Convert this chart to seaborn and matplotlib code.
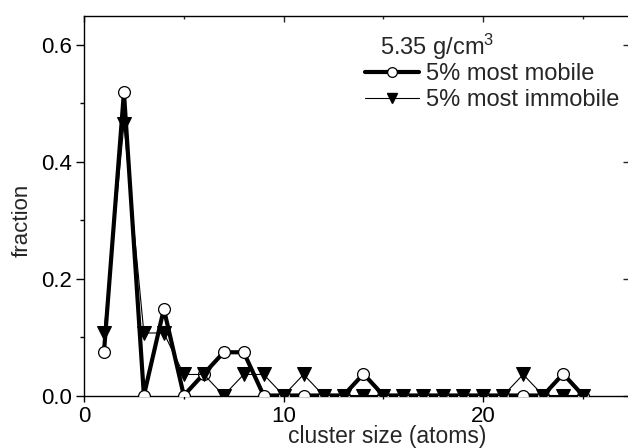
import matplotlib
matplotlib.use("Agg")
import matplotlib.pyplot as plt
import seaborn as sns
import numpy as np
from matplotlib.lines import Line2D
from matplotlib.ticker import MultipleLocator

# ---- data ----
cluster_size = [1, 2, 3, 4, 5, 6, 7, 8, 9, 10, 11, 12, 13, 14, 15, 16, 17, 18, 19, 20, 21, 22, 23, 24, 25]
mobile = [0.074, 0.519, 0.0, 0.148, 0.0, 0.037, 0.074, 0.074, 0.0, 0.0, 0.0, 0.0, 0.0, 0.037,
          0.0, 0.0, 0.0, 0.0, 0.0, 0.0, 0.0, 0.0, 0.0, 0.037, 0.0]
immobile = [0.107, 0.464, 0.107, 0.107, 0.036, 0.036, 0.0, 0.036, 0.036, 0.0, 0.036, 0.0, 0.0, 0.0,
            0.0, 0.0, 0.0, 0.0, 0.0, 0.0, 0.0, 0.036, 0.0, 0.0, 0.0]
series_labels = ["5% most mobile", "5% most immobile"]
density_label = "5.35 g/cm$^{3}$"
x_label = "cluster size (atoms)"
y_label = "fraction"

sns.set_style("ticks")
plt.rcParams['font.family'] = ['Liberation Sans', 'DejaVu Sans']
plt.rcParams['mathtext.fontset'] = 'custom'
plt.rcParams['mathtext.rm'] = 'Liberation Sans'
plt.rcParams['mathtext.it'] = 'Liberation Sans:italic'

W, H = 628, 448
fig = plt.figure(figsize=(W / 100, H / 100), dpi=100)
L, R, T, B = 84, 629, 15.7, 395.5
ax = fig.add_axes([L / W, 1 - B / H, (R - L) / W, (B - T) / H])

sns.lineplot(x=cluster_size, y=mobile, ax=ax, color="black", linewidth=3.0,
             marker="o", markersize=8.5, markerfacecolor="white", markeredgecolor="black",
             markeredgewidth=0.9, zorder=3)
sns.lineplot(x=cluster_size, y=immobile, ax=ax, color="black", linewidth=0.8,
             marker="v", markersize=9.5, markerfacecolor="black", markeredgecolor="black",
             zorder=4)

ax.set_xlim(0, 27.3)
ax.set_ylim(0, 0.65)
ax.xaxis.set_major_locator(MultipleLocator(10))
ax.xaxis.set_minor_locator(MultipleLocator(5))
ax.yaxis.set_major_locator(MultipleLocator(0.2))
ax.yaxis.set_minor_locator(MultipleLocator(0.1))
ax.yaxis.set_major_formatter(matplotlib.ticker.FormatStrFormatter('%.1f'))

for s in ax.spines.values():
    s.set_linewidth(1.0)
    s.set_color("black")

ax.tick_params(axis='both', which='both', colors='black', width=1.0, labelsize=16)
ax.tick_params(axis='x', which='major', direction='out', length=4.5, pad=3, bottom=True, top=False)
ax.tick_params(axis='x', which='minor', direction='out', length=2.5, bottom=True, top=False)
ax.tick_params(axis='y', which='major', direction='out', length=5.5, pad=3, left=True, right=False)
ax.tick_params(axis='y', which='minor', direction='out', length=3, left=True, right=False)

# mirrored inward ticks on top and right
ax_top = ax.secondary_xaxis('top')
ax_top.xaxis.set_major_locator(MultipleLocator(10))
ax_top.xaxis.set_minor_locator(MultipleLocator(5))
ax_top.tick_params(axis='x', which='major', direction='in', length=4.5, width=1.0, labeltop=False)
ax_top.tick_params(axis='x', which='minor', direction='in', length=2.5, width=1.0, labeltop=False)
ax_top.spines['top'].set_visible(False)
ax_right = ax.secondary_yaxis('right')
ax_right.yaxis.set_major_locator(MultipleLocator(0.2))
ax_right.yaxis.set_minor_locator(matplotlib.ticker.NullLocator())
ax_right.tick_params(axis='y', which='major', direction='in', length=4, width=1.0, labelright=False)
ax_right.spines['right'].set_visible(False)

ax.set_xlabel(x_label, fontsize=16.5)
ax.set_ylabel(y_label, fontsize=16)
ax.xaxis.set_label_coords((387.5 - L) / (R - L), (B - 425) / (B - T))
ax.yaxis.set_label_coords((33 - L) / (R - L), (B - 220) / (B - T))

handles = [
    Line2D([], [], color="black", linewidth=3.0, marker="o", markersize=7,
           markerfacecolor="white", markeredgecolor="black", markeredgewidth=0.9),
    Line2D([], [], color="black", linewidth=0.8, marker="v", markersize=7.5,
           markerfacecolor="black", markeredgecolor="black"),
]
ax.legend(handles, series_labels, loc="upper left", bbox_to_anchor=(365 / W, 1 - 63 / H),
          bbox_transform=fig.transFigure, frameon=False, borderpad=0, borderaxespad=0,
          handlelength=2.3, handletextpad=0.3, labelspacing=0.17, fontsize=17)
fig.text(380 / W, 1 - 47 / H, density_label, fontsize=17, ha="left", va="center")

fig.savefig("out.png", dpi=100)
